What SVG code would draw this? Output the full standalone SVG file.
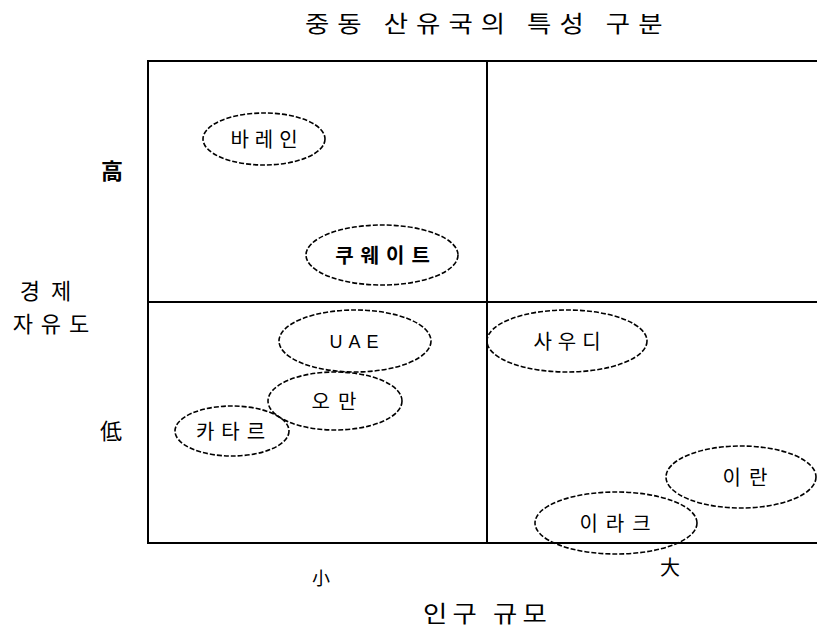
<svg xmlns="http://www.w3.org/2000/svg" width="817" height="630" viewBox="0 0 817 630">
<style>
text{font-family:"Noto Sans CJK KR","Noto Sans",sans-serif;fill:#000;}
.node ellipse{fill:none;stroke:#000;stroke-width:1.6;stroke-dasharray:5 2;}
.node text{font-size:20px;text-anchor:middle;}
.ax{font-size:22px;text-anchor:middle;}
.frame{fill:none;stroke:#000;stroke-width:2;}
</style>
<rect width="817" height="630" fill="#fff"/>
<text transform="scale(1.15,1)" x="265.2" y="32" style="font-size:23px;letter-spacing:7px">중동 산유국의 특성 구분</text>
<g id="frame">
<polyline class="frame" points="817,61 148,61 148,543 817,543"/>
<line class="frame" x1="487" y1="61" x2="487" y2="543"/>
<line class="frame" x1="148" y1="302" x2="817" y2="302"/>
</g>
<g id="n-bahrain" class="node"><ellipse cx="264" cy="139" rx="61" ry="26"/><text x="267" y="147" style="letter-spacing:6px">바레인</text></g>
<g id="n-kuwait" class="node"><ellipse cx="382" cy="255" rx="76" ry="30"/><text x="386" y="263" font-weight="bold" style="letter-spacing:7px">쿠웨이트</text></g>
<g id="n-uae" class="node"><ellipse cx="355" cy="341" rx="76" ry="31"/><text x="357" y="348" style="font-family:'Liberation Sans',sans-serif;font-size:18px;letter-spacing:6px">UAE</text></g>
<g id="n-oman" class="node"><ellipse cx="335" cy="401" rx="67" ry="29"/><text x="338" y="409" style="letter-spacing:8px">오만</text></g>
<g id="n-qatar" class="node"><ellipse cx="232" cy="431" rx="57" ry="25"/><text x="234" y="439" style="letter-spacing:7px">카타르</text></g>
<g id="n-saudi" class="node"><ellipse cx="567" cy="341" rx="80" ry="31"/><text x="570" y="349" style="letter-spacing:6px">사우디</text></g>
<g id="n-iran" class="node"><ellipse cx="741" cy="477" rx="75" ry="31"/><text x="749" y="485" style="letter-spacing:8px">이란</text></g>
<g id="n-iraq" class="node"><ellipse cx="616" cy="523" rx="81" ry="31"/><text x="619" y="531" style="letter-spacing:8px">이라크</text></g>
<text class="ax" x="112" y="179" font-weight="bold">高</text>
<text class="ax" x="111" y="439">低</text>
<text class="ax" x="51" y="299" style="letter-spacing:11px">경제</text>
<text class="ax" x="55" y="332" style="letter-spacing:8px">자유도</text>
<text class="ax" x="321" y="585" style="font-size:18px">小</text>
<text class="ax" x="670" y="575" style="font-size:20px">大</text>
<text transform="scale(1.15,1)" x="367.8" y="622" style="font-size:23px;letter-spacing:4.5px">인구 규모</text>
</svg>
